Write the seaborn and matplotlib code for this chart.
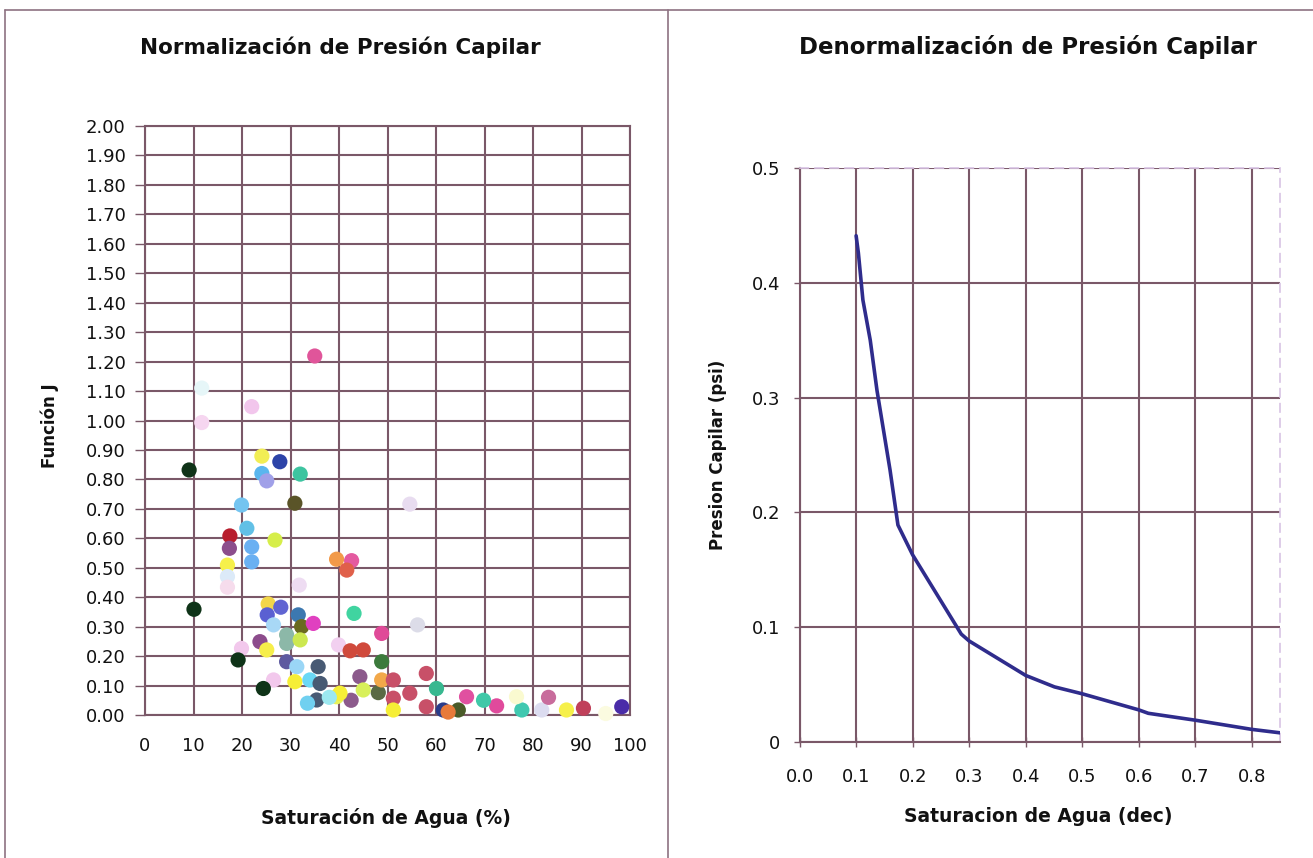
import numpy as np
import pandas as pd
import matplotlib
matplotlib.use("Agg")
import matplotlib.pyplot as plt
from matplotlib.lines import Line2D
import seaborn as sns

# ---------------- data ----------------
sw_pct = [9.1, 10.1, 11.7, 11.7, 22.0, 35.0, 24.1, 27.8, 24.1, 25.1, 32.0,
          30.9, 19.9, 54.6, 21.0, 17.5, 17.4, 22.0, 26.8, 22.0, 17.0, 17.0,
          17.0, 31.8, 39.5, 42.6, 41.6, 25.4, 25.2, 28.0, 31.6, 26.5, 32.3,
          34.7, 43.1, 56.2, 29.2, 29.2, 32.0, 23.7, 19.9, 25.1, 19.2, 29.2,
          35.7, 31.3, 26.5, 30.9, 34.0, 24.4, 36.1, 35.4, 39.5, 48.8, 39.9,
          42.3, 45.0, 48.8, 44.3, 42.5, 48.1, 48.8, 51.2, 58.0, 51.2, 54.6,
          58.0, 51.2, 66.3, 60.1, 61.5, 64.6, 62.5, 45.0, 40.2, 72.5, 69.8,
          77.7, 81.8, 83.2, 86.9, 90.4, 98.3, 76.6, 95.0, 38.0, 33.5]
funcion_j = [0.832, 0.359, 0.993, 1.110, 1.047, 1.219, 0.879, 0.860, 0.820,
             0.795, 0.818, 0.719, 0.713, 0.716, 0.634, 0.608, 0.566, 0.571,
             0.594, 0.520, 0.509, 0.470, 0.434, 0.441, 0.529, 0.524, 0.492,
             0.377, 0.340, 0.366, 0.340, 0.306, 0.300, 0.311, 0.345, 0.306,
             0.272, 0.243, 0.255, 0.249, 0.226, 0.221, 0.187, 0.181, 0.164,
             0.164, 0.119, 0.113, 0.119, 0.090, 0.107, 0.051, 0.062, 0.277,
             0.238, 0.218, 0.221, 0.181, 0.130, 0.050, 0.076, 0.119, 0.119,
             0.141, 0.057, 0.074, 0.028, 0.017, 0.062, 0.090, 0.017, 0.017,
             0.010, 0.085, 0.074, 0.031, 0.050, 0.017, 0.017, 0.060, 0.017,
             0.023, 0.028, 0.062, 0.005, 0.060, 0.040]
point_colors = ["#0f3318", "#0f3318", "#f6d6f0", "#e6f6f8", "#f2c6ec",
                "#e0559a", "#f2ee55", "#2c43a8", "#5ab6ee", "#a0a0e8", "#3ec4a0",
                "#5a5428", "#74c4f0", "#e8dcf0", "#62c0e6", "#b81e2e", "#8c4e8c",
                "#6ab0f2", "#d6ee4a", "#6ab0f2", "#f6f04a", "#dceaf8", "#f6dcec",
                "#eedcf2", "#f29a4a", "#e45aa0", "#e0604a", "#f2d64a", "#5a60d2",
                "#6064d2", "#3c78b0", "#a8d8f6", "#6a6a20", "#e040c0", "#40d4a0",
                "#dcdce8", "#8cb8a8", "#8cb8a8", "#cce850", "#8c4c8c", "#f2c8ec",
                "#f6ee4a", "#0f3318", "#5e5aa0", "#485a74", "#9ad6f6", "#f2c8ec",
                "#f6ee36", "#6ad8f6", "#0f3318", "#485a74", "#485a74", "#e8f25a",
                "#e04a98", "#f2d0f0", "#d04a3c", "#d04a3c", "#3c7a3c", "#8c5a8c",
                "#8c5a8c", "#5a6a44", "#f2a84a", "#c85068", "#c85068", "#c85068",
                "#c85068", "#c85068", "#f6ee36", "#e050a0", "#38b890", "#2a3c8a",
                "#4a5a28", "#e87a3a", "#d8f05a", "#f6ee36", "#e04a9c", "#40c8a8",
                "#40c8b0", "#dcdcf0", "#c86c9c", "#f6f04a", "#c0405a", "#4a2ca8",
                "#fafad0", "#fbfbe0", "#9ce8f0", "#70d0f0"]

sw_dec = [0.100, 0.104, 0.112, 0.125, 0.137, 0.160, 0.174, 0.200, 0.286,
          0.300, 0.400, 0.451, 0.500, 0.600, 0.617, 0.700, 0.800, 0.850]
pc_psi = [0.441, 0.426, 0.385, 0.350, 0.306, 0.237, 0.189, 0.163, 0.094,
          0.088, 0.058, 0.048, 0.042, 0.028, 0.025, 0.019, 0.011, 0.008]

left_yticks = [round(0.1 * i, 2) for i in range(21)]
left_xticks = list(range(0, 101, 10))
right_xticks = [0.0, 0.1, 0.2, 0.3, 0.4, 0.5, 0.6, 0.7, 0.8]
right_yticks = [0, 0.1, 0.2, 0.3, 0.4, 0.5]

# ---------------- style ----------------
sns.set_theme(style="white")
plt.rcParams['font.family'] = ['DejaVu Sans']

GRID = "#7a5868"
FRAME = "#8e7282"
TXT = "#111111"

W, H = 1313, 858
fig = plt.figure(figsize=(W / 100, H / 100), dpi=100)
fig.patch.set_facecolor("white")


def rect(x0, y0, x1, y1):
    return [x0 / W, 1 - y1 / H, (x1 - x0) / W, (y1 - y0) / H]


# panel frame lines
fig.add_artist(Line2D([5 / W, 1], [1 - 10 / H, 1 - 10 / H], color=FRAME, lw=1.2))
fig.add_artist(Line2D([5 / W, 5 / W], [0, 1 - 10 / H], color=FRAME, lw=1.2))
fig.add_artist(Line2D([668 / W, 668 / W], [0, 1 - 10 / H], color=FRAME, lw=1.2))

# ---------------- left panel ----------------
axL = fig.add_axes(rect(145, 126, 630, 715))
dfL = pd.DataFrame({"sw": sw_pct, "j": funcion_j,
                    "pid": [str(i) for i in range(len(sw_pct))]})
sns.scatterplot(data=dfL, x="sw", y="j", hue="pid", palette=point_colors,
                s=120, edgecolor="none", legend=False, ax=axL, zorder=3,
                clip_on=False)
axL.set_xlim(0, 100)
axL.set_ylim(0, 2.0)
axL.set_xticks(left_xticks)
axL.set_yticks(left_yticks)
axL.set_yticklabels([f"{v:.2f}" for v in left_yticks])
axL.set_xticklabels([str(v) for v in left_xticks])
axL.grid(True, color=GRID, lw=1.5)
axL.set_axisbelow(True)
for s in axL.spines.values():
    s.set_color(GRID)
    s.set_linewidth(1.5)
axL.tick_params(axis="y", direction="out", length=7, width=1, color=GRID,
                pad=7, labelsize=13, left=True, labelcolor=TXT)
axL.tick_params(axis="x", length=0, pad=16, labelsize=13, labelcolor=TXT)
axL.set_xlabel("")
axL.set_ylabel("")
fig.text(340 / W, 1 - 47 / H, "Normalización de Presión Capilar",
         ha="center", va="center", fontsize=15.5, fontweight="bold", color=TXT)
fig.text(386 / W, 1 - 818 / H, "Saturación de Agua (%)",
         ha="center", va="center", fontsize=13.5, fontweight="bold", color=TXT)
fig.text(50 / W, 1 - 426 / H, "Función J", ha="center", va="center",
         fontsize=12, fontweight="bold", rotation=90, color=TXT)

# ---------------- right panel ----------------
axR = fig.add_axes(rect(799.6, 168, 1280, 742))
dfR = pd.DataFrame({"sw": sw_dec, "pc": pc_psi})
sns.lineplot(data=dfR, x="sw", y="pc", color="#2f2c8c", lw=2.6, ax=axR,
             zorder=3)
axR.set_xlim(0, 0.85)
axR.set_ylim(0, 0.5)
axR.set_xticks(right_xticks)
axR.set_xticklabels([f"{v:.1f}" for v in right_xticks])
axR.set_yticks(right_yticks)
axR.set_yticklabels(["0", "0.1", "0.2", "0.3", "0.4", "0.5"])
axR.grid(True, color=GRID, lw=1.5)
axR.set_axisbelow(True)
for k, s in axR.spines.items():
    s.set_color(GRID)
    s.set_linewidth(1.5)
for k in ("right", "top"):
    axR.spines[k].set_color("#d8c4e4")
    axR.spines[k].set_linestyle((0, (5, 4)))
    axR.spines[k].set_linewidth(1.2)
axR.tick_params(axis="y", direction="out", length=4, width=1, color=GRID,
                pad=10, labelsize=13, left=True, labelcolor=TXT)
axR.tick_params(axis="x", direction="inout", length=7, width=1, color=GRID,
                pad=15, labelsize=13, bottom=True, labelcolor=TXT)
axR.set_xlabel("")
axR.set_ylabel("")
fig.text(1028 / W, 1 - 47 / H, "Denormalización de Presión Capilar",
         ha="center", va="center", fontsize=16.5, fontweight="bold", color=TXT)
fig.text(1038 / W, 1 - 816 / H, "Saturacion de Agua (dec)",
         ha="center", va="center", fontsize=13.5, fontweight="bold", color=TXT)
fig.text(718 / W, 1 - 455 / H, "Presion Capilar (psi)", ha="center",
         va="center", fontsize=12, fontweight="bold", rotation=90, color=TXT)

fig.savefig("out.png", dpi=100, facecolor="white")
